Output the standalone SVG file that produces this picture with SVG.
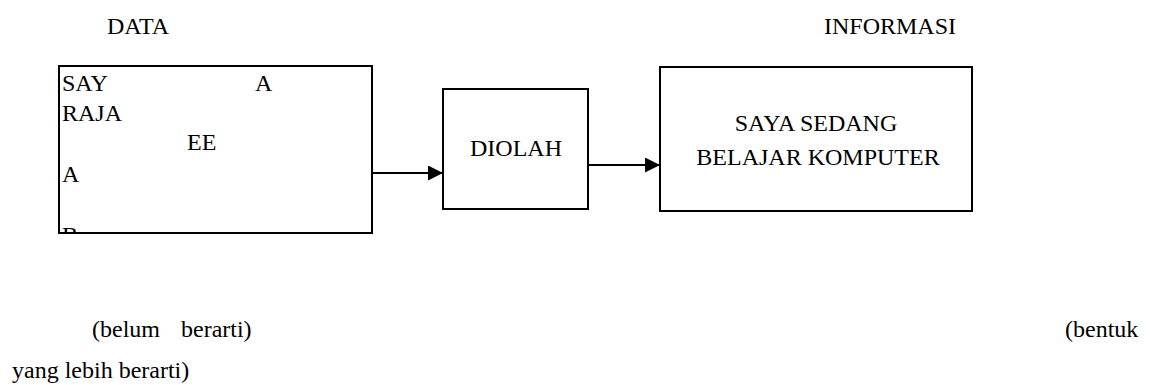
<svg xmlns="http://www.w3.org/2000/svg" width="1150" height="385" viewBox="0 0 1150 385">
  <style>
    text { font-family: 'Liberation Serif', Tinos, 'Times New Roman', 'DejaVu Serif', serif; font-size: 24px; fill: #000; }
    .box { fill: #fff; stroke: #000; stroke-width: 2; }
    .link { stroke: #000; stroke-width: 2; fill: none; }
    .mid { text-anchor: middle; }
  </style>
  <defs>
    <marker id="arrow" markerUnits="userSpaceOnUse" markerWidth="16" markerHeight="16" refX="15" refY="7.5" orient="auto">
      <path d="M0,0 L15,7.5 L0,15 Z" fill="#000"/>
    </marker>
    <clipPath id="dataClip">
      <rect x="59" y="66" width="313" height="167"/>
    </clipPath>
  </defs>
  <rect width="1150" height="385" fill="#fff"/>

  <g font-family="'Liberation Serif', Tinos, 'Times New Roman', 'DejaVu Serif', serif">
    <!-- headings -->
    <text x="107" y="34">DATA</text>
    <text x="956" y="34" text-anchor="end">INFORMASI</text>

    <!-- raw data box -->
    <g id="data">
      <rect class="box" x="59" y="66" width="313" height="167"/>
      <g clip-path="url(#dataClip)">
        <text x="62" y="91">SAY</text>
        <text x="255" y="91">A</text>
        <text x="62" y="121">RAJA</text>
        <text x="187" y="150">EE</text>
        <text x="62" y="182">A</text>
        <text x="62" y="243">B</text>
      </g>
    </g>

    <!-- processing box -->
    <g id="diolah">
      <rect class="box" x="443" y="89" width="145" height="120"/>
      <text class="mid" x="516" y="156">DIOLAH</text>
    </g>

    <!-- information box -->
    <g id="informasi">
      <rect class="box" x="660" y="67" width="312" height="144"/>
      <text class="mid" x="816" y="131">SAYA SEDANG</text>
      <text class="mid" x="818" y="165">BELAJAR KOMPUTER</text>
    </g>

    <!-- captions -->
    <text x="92" y="337" word-spacing="15">(belum berarti)</text>
    <text x="1065" y="337">(bentuk</text>
    <text x="12" y="378">yang lebih berarti)</text>
  </g>

  <!-- connectors -->
  <g id="connectors">
    <line class="link" x1="372" y1="173" x2="443" y2="173" marker-end="url(#arrow)"/>
    <line class="link" x1="588" y1="165" x2="660" y2="165" marker-end="url(#arrow)"/>
  </g>
</svg>
